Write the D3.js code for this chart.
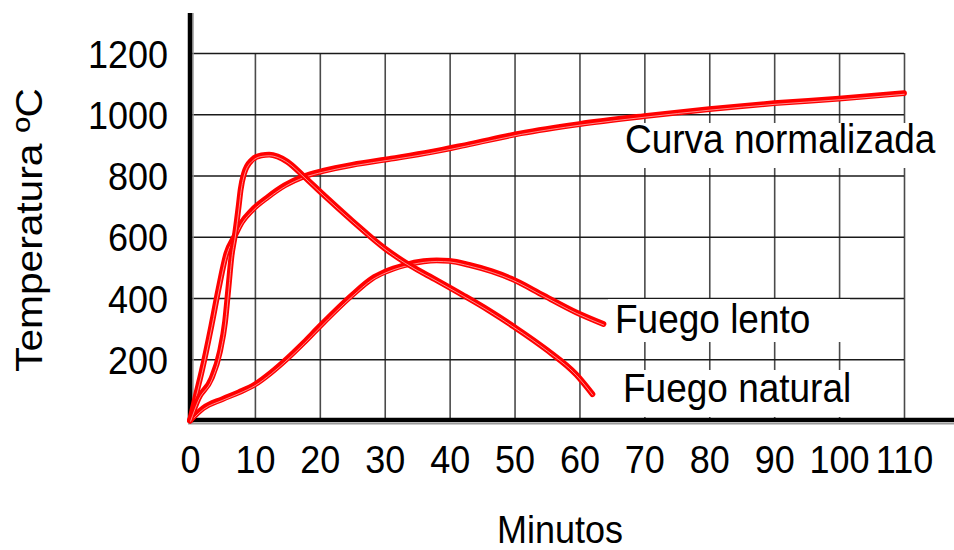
<!DOCTYPE html>
<html>
<head>
<meta charset="utf-8">
<script src="https://cdn.jsdelivr.net/npm/d3@7"></script>
<style>
  html, body { margin: 0; padding: 0; background: #fff; }
  svg { display: block; font-family: "Liberation Sans", Arial, sans-serif; }
</style>
</head>
<body>
<svg id="chart" width="954" height="550"></svg>
<script>
// Time (minutes) and temperature (°C) of each fire curve
const curvaNormalizada = [
  [0, 0], [1, 90], [1.8, 160], [3.3, 310], [4.4, 430], [5.6, 545], [6.9, 603],
  [8, 648], [9.5, 686], [12, 730], [14.6, 768], [17.5, 797], [20.5, 815],
  [25, 835], [31, 855], [37, 876], [43, 902], [51, 938], [60, 968], [70, 994],
  [80, 1017], [90, 1036], [100, 1051], [110, 1069]
];
const fuegoLento = [
  [0, 0], [2, 40], [5, 70], [7.5, 92], [10, 118], [12.5, 157], [15, 203],
  [17.5, 254], [20, 308], [25, 410], [28, 463], [30, 485], [33, 507], [36, 520],
  [38, 523], [40, 521], [43, 508], [46.5, 487], [49.5, 463], [54.5, 408],
  [59.5, 353], [63.7, 315]
];
const fuegoNatural = [
  [0, 0], [1.3, 72], [3.3, 137], [4.6, 224], [5.4, 322], [5.9, 429], [6.4, 538],
  [6.9, 603], [7.5, 700], [7.8, 754], [8.3, 805], [9.5, 850], [11, 866],
  [12.2, 868], [13.5, 862], [15, 845], [17.5, 798], [20.5, 738], [25, 652],
  [30, 562], [34, 505], [38, 458], [42, 410], [46, 360], [50, 305], [55, 230],
  [59.5, 150], [62, 86]
];
const seriesNames = ["Curva normalizada", "Fuego lento", "Fuego natural"];
const xTicks = [0, 10, 20, 30, 40, 50, 60, 70, 80, 90, 100, 110];
const yTicks = [200, 400, 600, 800, 1000, 1200];
const xTitle = "Minutos";
const yTitle = "Temperatura ºC";

(function draw() {
  const svg = d3.select("#chart");
  const plotLeft = 190, plotRight = 904, plotTop = 53, plotBottom = 420.5;
  const stretch = 1.1;   // text is drawn slightly tall
  const fontSize = 36;

  const x = d3.scaleLinear().domain([0, 110]).range([plotLeft, plotRight]);
  const y = d3.scaleLinear().domain([0, 1200]).range([plotBottom, plotTop]);

  // Vertical grid lines + minute labels
  const gx = svg.append("g")
    .attr("transform", `translate(0,${plotBottom})`)
    .call(d3.axisBottom(x).tickValues(xTicks).tickFormat(d3.format("d"))
      .tickSize(-(plotBottom - plotTop)).tickPadding(0));
  gx.select(".domain").remove();
  gx.selectAll(".tick line")
    .attr("stroke", "#4a4a4a").attr("stroke-width", 1.6)
    .attr("display", d => d === 0 ? "none" : null);
  gx.selectAll(".tick text")
    .attr("y", null).attr("dy", null)
    .attr("transform", `translate(0,52) scale(1,${stretch})`)
    .attr("font-size", fontSize).attr("font-family", "Liberation Sans, Arial, sans-serif")
    .attr("fill", "#000");

  // Horizontal grid lines + temperature labels
  const gy = svg.append("g")
    .attr("transform", `translate(${plotLeft},0)`)
    .call(d3.axisLeft(y).tickValues(yTicks).tickFormat(d3.format("d"))
      .tickSize(-(plotRight - plotLeft)).tickPadding(22));
  gy.select(".domain").remove();
  gy.selectAll(".tick line").attr("stroke", "#1a1a1a").attr("stroke-width", 1.3);
  gy.selectAll(".tick text")
    .attr("dy", null)
    .attr("transform", `translate(0,${0.358 * fontSize * stretch}) scale(1,${stretch})`)
    .attr("font-size", fontSize).attr("font-family", "Liberation Sans, Arial, sans-serif")
    .attr("fill", "#000");

  // Main axes: heavy black lines with a soft grey edge
  svg.append("line").attr("x1", plotLeft + 3).attr("x2", plotLeft + 3).attr("y1", 13).attr("y2", plotBottom + 2)
    .attr("stroke", "#9a9a9a").attr("stroke-width", 1.5);
  svg.append("line").attr("x1", plotLeft).attr("x2", plotLeft).attr("y1", 13).attr("y2", plotBottom + 2)
    .attr("stroke", "#000").attr("stroke-width", 4.5);
  svg.append("line").attr("x1", plotLeft - 2).attr("x2", 954).attr("y1", plotBottom + 3.2).attr("y2", plotBottom + 3.2)
    .attr("stroke", "#9a9a9a").attr("stroke-width", 1.6);
  svg.append("line").attr("x1", plotLeft - 2).attr("x2", 954).attr("y1", plotBottom - 0.5).attr("y2", plotBottom - 0.5)
    .attr("stroke", "#000").attr("stroke-width", 4.5);

  // Series labels on white panels
  const labelSpots = [
    { name: seriesNames[0], x: 625, base: 153, box: [618, 123, 954, 168] },
    { name: seriesNames[1], x: 615, base: 333, box: [608, 299, 850, 342] },
    { name: seriesNames[2], x: 623, base: 402, box: [612, 370, 860, 417] }
  ];
  labelSpots.forEach(s => {
    svg.append("rect")
      .attr("x", s.box[0]).attr("y", s.box[1])
      .attr("width", s.box[2] - s.box[0]).attr("height", s.box[3] - s.box[1])
      .attr("fill", "#fff");
    svg.append("text")
      .attr("transform", `translate(${s.x},${s.base}) scale(1,${stretch})`)
      .attr("font-size", fontSize + 1).attr("fill", "#000")
      .text(s.name);
  });

  // Curves: red stroke with a faint light core
  const line = d3.line().x(d => x(d[0])).y(d => y(d[1])).curve(d3.curveMonotoneX);
  [curvaNormalizada, fuegoLento, fuegoNatural].forEach(series => {
    svg.append("path").attr("d", line(series))
      .attr("fill", "none").attr("stroke", "#ff0000").attr("stroke-width", 5.8)
      .attr("stroke-linecap", "round").attr("stroke-linejoin", "round");
    svg.append("path").attr("d", line(series))
      .attr("transform", "translate(0.5,1.1)")
      .attr("fill", "none").attr("stroke", "#ffd0d0").attr("stroke-width", 0.9)
      .attr("stroke-opacity", 0.75);
  });

  // Axis titles
  svg.append("text")
    .attr("transform", `translate(560,543) scale(1,${stretch})`)
    .attr("text-anchor", "middle").attr("font-size", fontSize).attr("fill", "#000")
    .text(xTitle);
  svg.append("text")
    .attr("transform", `translate(42,230) rotate(-90) scale(${stretch},1)`)
    .attr("text-anchor", "middle").attr("font-size", fontSize + 1).attr("fill", "#000")
    .text(yTitle);
})();
</script>
</body>
</html>
